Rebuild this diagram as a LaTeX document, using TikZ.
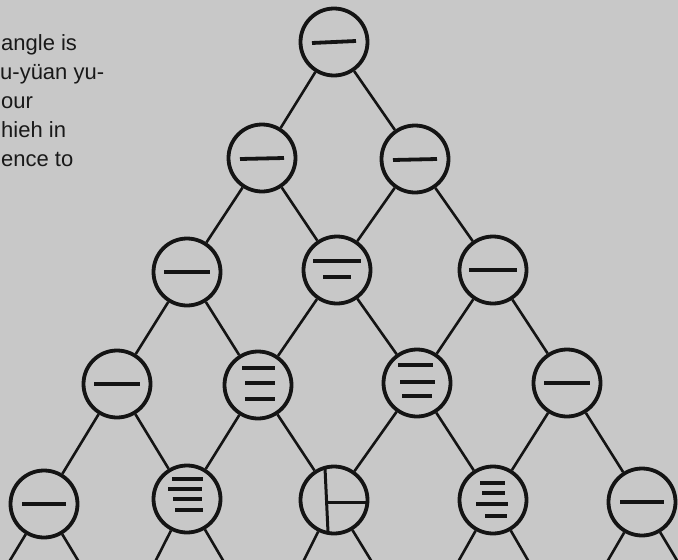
\documentclass[tikz,border=0pt]{standalone}
\usepackage{fontspec}
\setmainfont{Liberation Sans}
\definecolor{paper}{RGB}{200,200,200}
\definecolor{ink}{RGB}{20,20,20}
\definecolor{textc}{RGB}{25,25,25}
\begin{document}
\begin{tikzpicture}[x=1pt,y=-1pt,
  numc/.style={circle, draw=ink, line width=3.8pt, minimum size=67pt, inner sep=0pt, fill=paper},
  link/.style={draw=ink, line width=2.6pt},
  bar/.style={draw=ink, line width=3.8pt},
  txt/.style={anchor=base west, font=\fontsize{22}{26}\selectfont, text=textc, inner sep=0pt}]
\useasboundingbox (0,0) rectangle (678,560);
\fill[paper] (0,0) rectangle (678,560);
\clip (0,0) rectangle (678,560);

% text fragments
\node[txt] (t1) at (1,50) {angle is};
\node[txt] (t2) at (0,79) {u-yüan yu-};
\node[txt] (t3) at (1,108) {our};
\node[txt] (t4) at (1,137) {hieh in};
\node[txt] (t5) at (1,166) {ence to};

% circles
\node[numc] (r0)  at (334,42) {};
\node[numc] (r1a) at (262,158) {};
\node[numc] (r1b) at (415,159) {};
\node[numc] (r2a) at (187,272) {};
\node[numc] (r2b) at (337,270) {};
\node[numc] (r2c) at (493,270) {};
\node[numc] (r3a) at (117,384) {};
\node[numc] (r3b) at (258,385) {};
\node[numc] (r3c) at (417,383) {};
\node[numc] (r3d) at (567,383) {};
\node[numc] (r4a) at (44,504) {};
\node[numc] (r4b) at (187,499) {};
\node[numc] (r4c) at (334,500) {};
\node[numc] (r4d) at (493,500) {};
\node[numc] (r4e) at (642,502) {};

% free ends below the frame
\coordinate (e1) at (9,562);   \coordinate (e2) at (79,562);
\coordinate (e3) at (155,562); \coordinate (e4) at (224,562);
\coordinate (e5) at (303,562); \coordinate (e6) at (372,562);
\coordinate (e7) at (458,562); \coordinate (e8) at (529,562);
\coordinate (e9) at (607,562); \coordinate (e10) at (678,562);

% connectors
\draw[link] (r0) -- (r1a);  \draw[link] (r0) -- (r1b);
\draw[link] (r1a) -- (r2a); \draw[link] (r1a) -- (r2b);
\draw[link] (r1b) -- (r2b); \draw[link] (r1b) -- (r2c);
\draw[link] (r2a) -- (r3a); \draw[link] (r2a) -- (r3b);
\draw[link] (r2b) -- (r3b); \draw[link] (r2b) -- (r3c);
\draw[link] (r2c) -- (r3c); \draw[link] (r2c) -- (r3d);
\draw[link] (r3a) -- (r4a); \draw[link] (r3a) -- (r4b);
\draw[link] (r3b) -- (r4b); \draw[link] (r3b) -- (r4c);
\draw[link] (r3c) -- (r4c); \draw[link] (r3c) -- (r4d);
\draw[link] (r3d) -- (r4d); \draw[link] (r3d) -- (r4e);
\draw[link] (r4a) -- (e1);  \draw[link] (r4a) -- (e2);
\draw[link] (r4b) -- (e3);  \draw[link] (r4b) -- (e4);
\draw[link] (r4c) -- (e5);  \draw[link] (r4c) -- (e6);
\draw[link] (r4d) -- (e7);  \draw[link] (r4d) -- (e8);
\draw[link] (r4e) -- (e9);  \draw[link] (r4e) -- (e10);

% rod numerals: one
\draw[bar] ([shift={(-22,1)}]r0.center) -- ([shift={(22,-1)}]r0.center);
\draw[bar] ([shift={(-22,1)}]r1a.center) -- ([shift={(22,0)}]r1a.center);
\draw[bar] ([shift={(-22,1)}]r1b.center) -- ([shift={(22,0)}]r1b.center);
\draw[bar] ([shift={(-23,0)}]r2a.center) -- ([shift={(23,0)}]r2a.center);
\draw[bar] ([shift={(-24,0)}]r2c.center) -- ([shift={(24,0)}]r2c.center);
\draw[bar] ([shift={(-23,0)}]r3a.center) -- ([shift={(23,0)}]r3a.center);
\draw[bar] ([shift={(-23,0)}]r3d.center) -- ([shift={(23,0)}]r3d.center);
\draw[bar] ([shift={(-22,0)}]r4a.center) -- ([shift={(22,0)}]r4a.center);
\draw[bar] ([shift={(-22,0)}]r4e.center) -- ([shift={(22,0)}]r4e.center);

% two
\draw[bar] ([shift={(-24,-9)}]r2b.center) -- ([shift={(24,-9)}]r2b.center);
\draw[bar] ([shift={(-14,7)}]r2b.center) -- ([shift={(14,7)}]r2b.center);

% three
\draw[bar] ([shift={(-16,-17)}]r3b.center) -- ([shift={(17,-17)}]r3b.center);
\draw[bar] ([shift={(-13,-2)}]r3b.center) -- ([shift={(17,-2)}]r3b.center);
\draw[bar] ([shift={(-13,14)}]r3b.center) -- ([shift={(17,14)}]r3b.center);
\draw[bar] ([shift={(-19,-18)}]r3c.center) -- ([shift={(16,-18)}]r3c.center);
\draw[bar] ([shift={(-17,-1)}]r3c.center) -- ([shift={(18,-1)}]r3c.center);
\draw[bar] ([shift={(-15,13)}]r3c.center) -- ([shift={(15,13)}]r3c.center);

% four
\draw[bar] ([shift={(-15,-20)}]r4b.center) -- ([shift={(16,-20)}]r4b.center);
\draw[bar] ([shift={(-19,-10)}]r4b.center) -- ([shift={(15,-10)}]r4b.center);
\draw[bar] ([shift={(-14,0)}]r4b.center) -- ([shift={(15,0)}]r4b.center);
\draw[bar] ([shift={(-12,11)}]r4b.center) -- ([shift={(16,11)}]r4b.center);
\draw[bar] ([shift={(-13,-17)}]r4d.center) -- ([shift={(12,-17)}]r4d.center);
\draw[bar] ([shift={(-11,-7)}]r4d.center) -- ([shift={(12,-7)}]r4d.center);
\draw[bar] ([shift={(-17,4)}]r4d.center) -- ([shift={(15,4)}]r4d.center);
\draw[bar] ([shift={(-8,16)}]r4d.center) -- ([shift={(14,16)}]r4d.center);

% six
\draw[bar, line width=3pt] ([shift={(-9,-32)}]r4c.center) -- ([shift={(-6,32)}]r4c.center);
\draw[bar, line width=3pt] ([shift={(-7.5,2)}]r4c.center) -- ([shift={(32,2)}]r4c.center);
\end{tikzpicture}
\end{document}
